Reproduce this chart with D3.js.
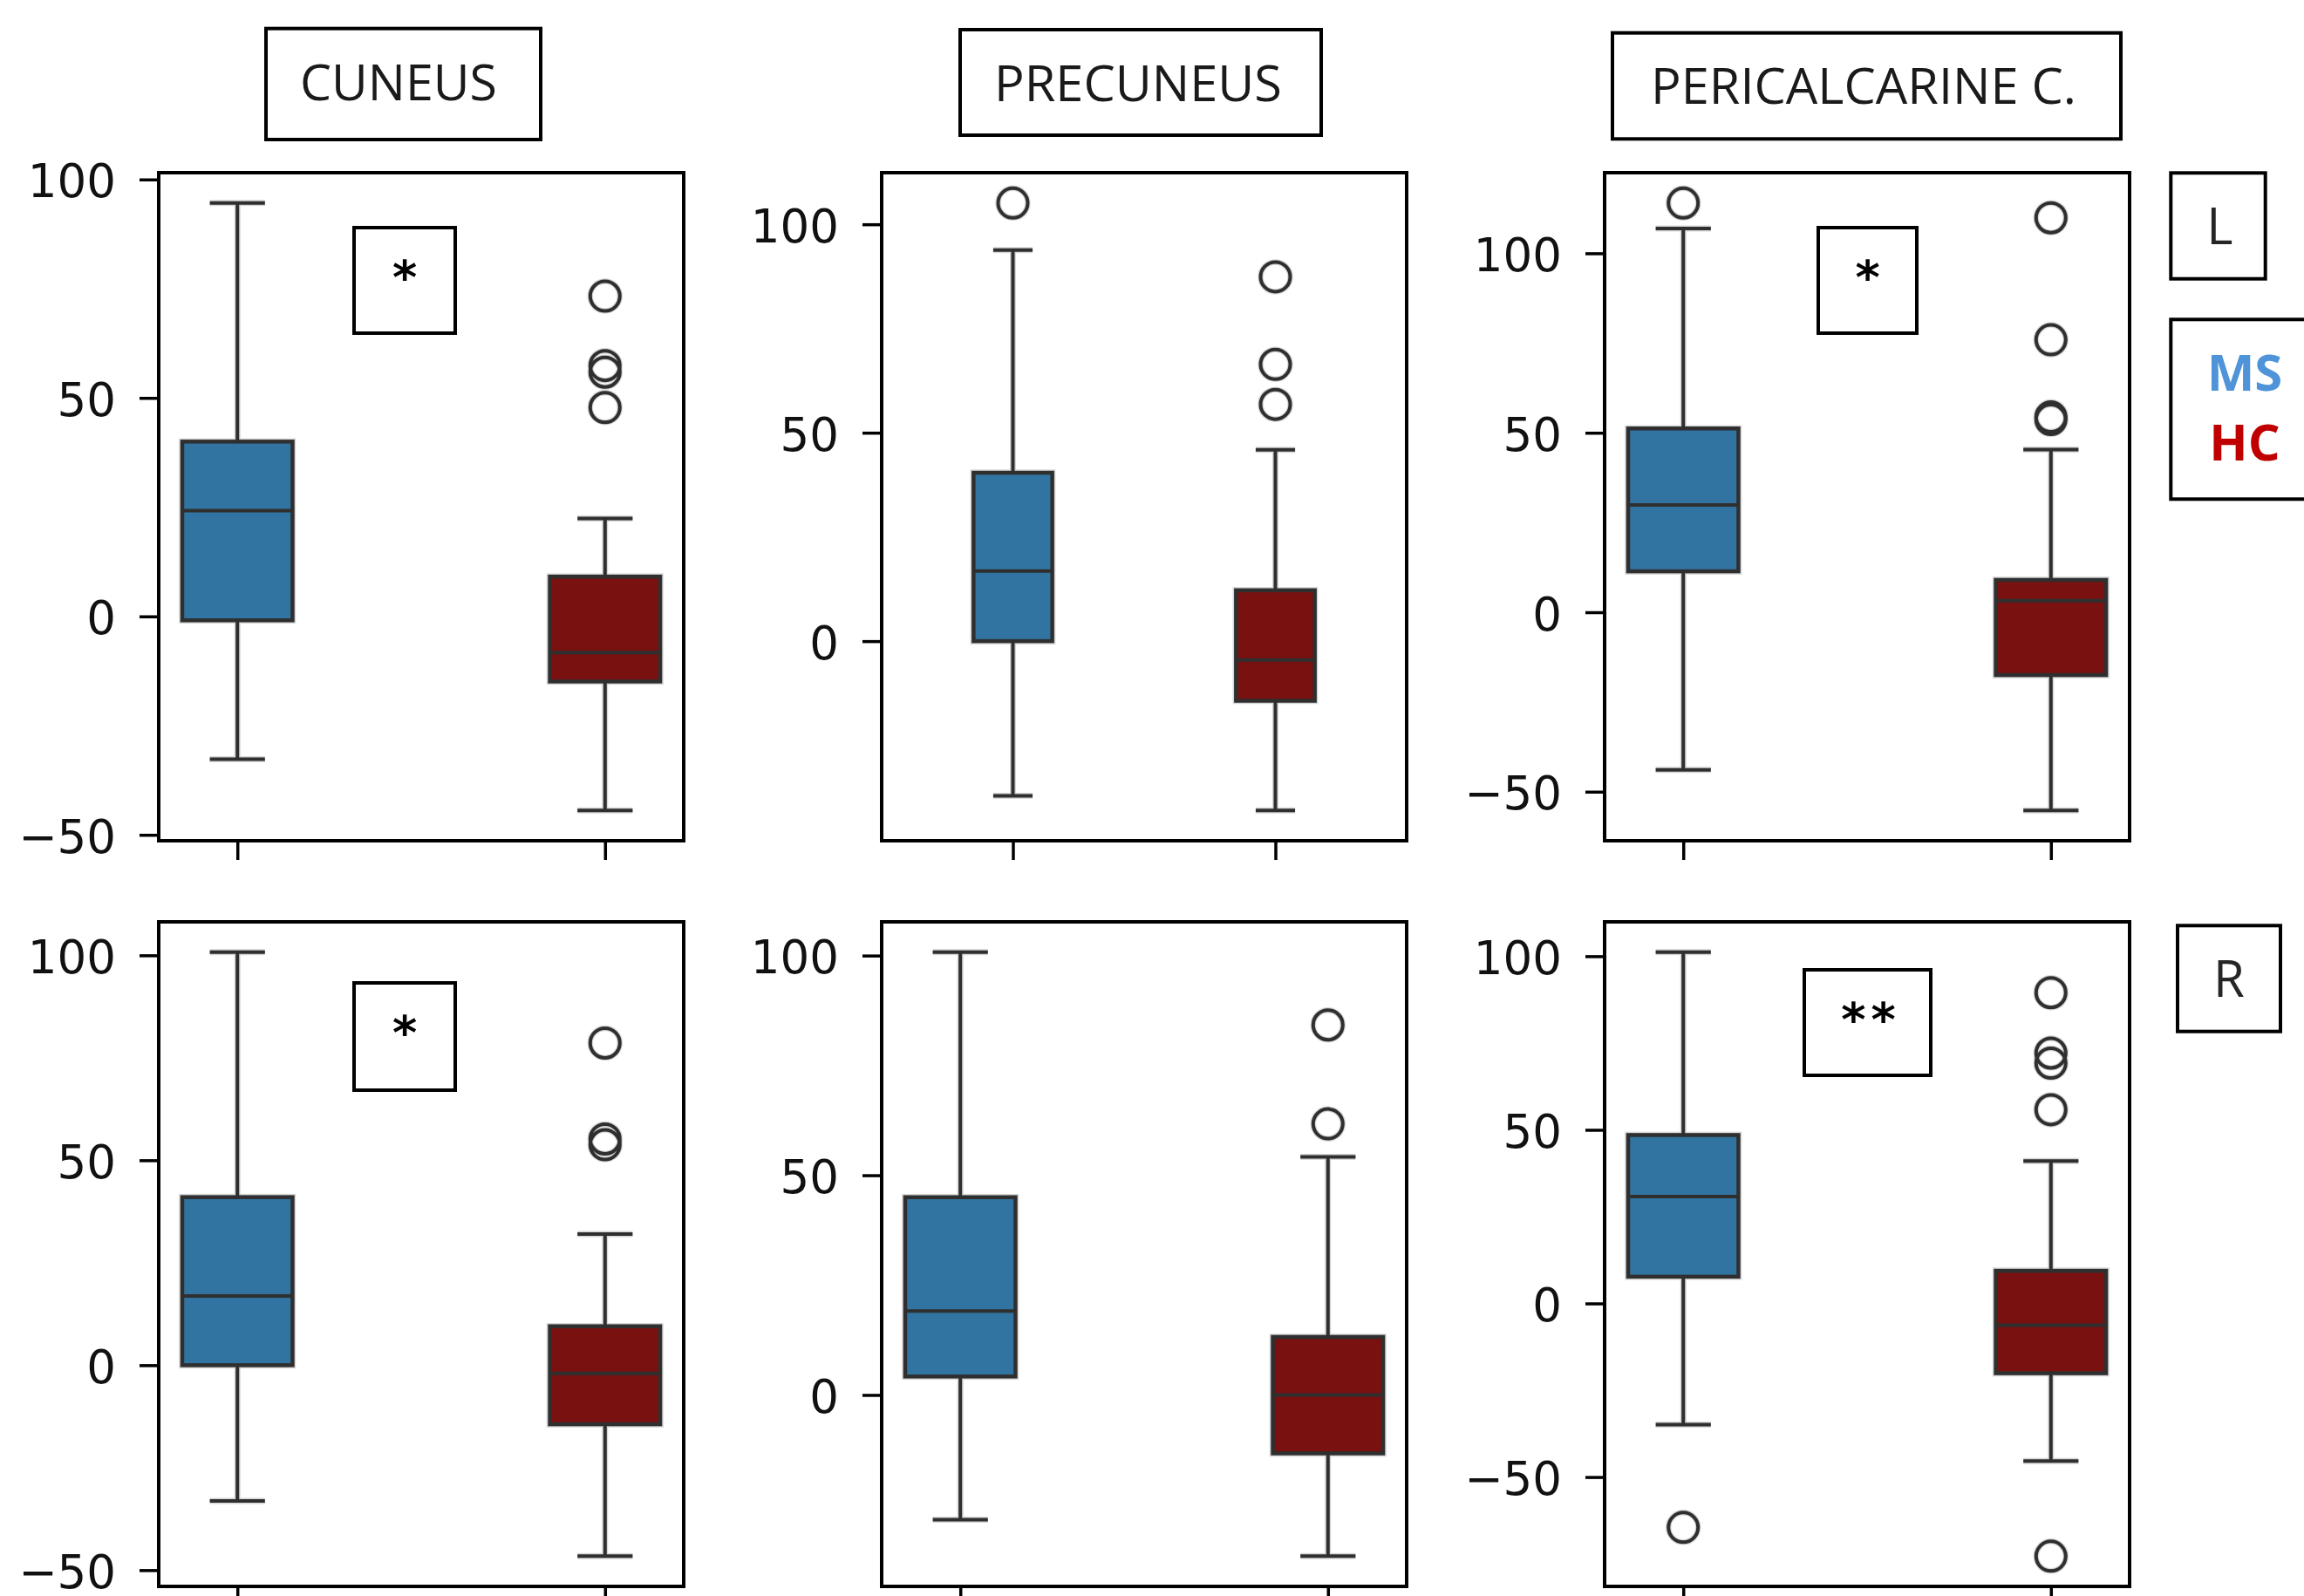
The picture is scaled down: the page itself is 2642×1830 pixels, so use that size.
<!DOCTYPE html>
<html><head><meta charset="utf-8">
<script src="https://cdn.jsdelivr.net/npm/d3@7"></script>
<style>html,body{margin:0;padding:0;background:#fff;} svg{display:block;}</style>
</head><body>
<svg id="chart" width="2642" height="1830"></svg>
<script>
// ---------------- DATA ----------------
const regions = ["CUNEUS", "PRECUNEUS", "PERICALCARINE C."];
const hemispheres = ["L", "R"];
const groups = ["MS", "HC"];
// panel order: Cuneus L, Precuneus L, Pericalcarine L, Cuneus R, Precuneus R, Pericalcarine R
const panelRegion = [0, 1, 2, 0, 1, 2];
const panelHemisphere = [0, 0, 0, 1, 1, 1];

const msWhiskerLow  = [-32.7, -37.1, -43.9, -33.1, -28.4, -34.9];
const msQ1          = [ -0.9,   0.0,  11.4,   0.0,   4.2,   7.7];
const msMedian      = [ 24.2,  16.8,  29.9,  16.9,  19.1,  30.8];
const msQ3          = [ 40.0,  40.4,  51.2,  41.0,  45.0,  48.5];
const msWhiskerHigh = [ 94.6,  93.8, 106.9, 100.8, 100.8, 101.2];
const msOutliers    = [[], [105.1], [114.0], [], [], [-64.5]];

const hcWhiskerLow  = [-44.4, -40.6, -55.2, -46.6, -36.7, -45.4];
const hcQ1          = [-14.9, -14.3, -17.5, -14.4, -13.3, -20.1];
const hcMedian      = [ -8.3,  -4.5,   3.2,  -2.0,   0.0,  -6.3];
const hcQ3          = [  9.1,  12.2,   9.0,   9.5,  13.2,   9.4];
const hcWhiskerHigh = [ 22.4,  45.9,  45.3,  32.0,  54.2,  41.0];
const hcOutliers    = [[73.3, 57.4, 55.9, 47.8], [87.4, 66.4, 56.8], [109.9, 75.9, 54.4, 53.7],
                       [78.6, 55.2, 53.8], [84.2, 61.7], [89.5, 72.1, 69.2, 55.8, -72.8]];

const significance = ["*", "", "*", "*", "", "**"];
const yTickValues = [-50, 0, 50, 100];

// ---------------- LAYOUT / STYLE ----------------
const colLeft = [182, 1011, 1840];
const rowTop = [198, 1057];
const rowHeight = [766, 762];
const panelWidth = 602;
const xPadding = [0.214, 0.5, 0.214, 0.214, 0.214, 0.214];
const groupFill = {MS: "#3274a1", HC: "#7a1111"};
const lineColor = "#2f2f2f";
const haloColor = "#d6d6d6";
const lw = 4;

const titleBoxes = [
  {x: 305, y: 32.7, w: 315, h: 127.3, tx: 457, ty: 115, tl: 226},
  {x: 1101, y: 34, w: 414, h: 121, tx: 1305, ty: 115.6, tl: 330},
  {x: 1849, y: 37.7, w: 583, h: 121.6, tx: 2137, ty: 119, tl: 488}
];
const hemiBoxes = [
  {x: 2489.3, y: 198.3, w: 108.4, h: 121.4, tx: 2545.5, ty: 279.7},
  {x: 2497, y: 1061.3, w: 118, h: 121.4, tx: 2556, ty: 1142.7}
];
const sigBoxes = [
  {x: 406, y: 261, w: 116, h: 121},
  null,
  {x: 2085, y: 261, w: 113, h: 121},
  {x: 406, y: 1127, w: 116, h: 123},
  null,
  {x: 2069, y: 1112, w: 145, h: 121}
];

const svg = d3.select("#chart");
svg.append("rect").attr("width", 2642).attr("height", 1830).attr("fill", "#fff");

const fmt = d => d < 0 ? "\u2212" + Math.abs(d) : String(d);

for (let i = 0; i < 6; i++) {
  const c = panelRegion[i], r = panelHemisphere[i];
  const h = rowHeight[r];
  const g = svg.append("g").attr("transform", `translate(${colLeft[c]},${rowTop[r]})`);

  const stats = [
    {group: "MS", lo: msWhiskerLow[i], q1: msQ1[i], med: msMedian[i], q3: msQ3[i], hi: msWhiskerHigh[i], out: msOutliers[i]},
    {group: "HC", lo: hcWhiskerLow[i], q1: hcQ1[i], med: hcMedian[i], q3: hcQ3[i], hi: hcWhiskerHigh[i], out: hcOutliers[i]}
  ];
  const allVals = stats.flatMap(s => [s.lo, s.hi, ...s.out]);
  const [mn, mx] = d3.extent(allVals);
  const pad = (mx - mn) * 0.05;
  const y = d3.scaleLinear().domain([mn - pad, mx + pad]).range([h, 0]);
  const x = d3.scalePoint().domain(groups).range([0, panelWidth]).padding(xPadding[i]);
  const bw = x.step() * 0.3;

  const layers = [{color: haloColor, width: lw + 3}, {color: lineColor, width: lw}];
  stats.forEach(s => {
    const cx = x(s.group);
    const bg = g.append("g");
    layers.forEach((L, li) => {
      bg.append("line").attr("x1", cx).attr("x2", cx).attr("y1", y(s.hi)).attr("y2", y(s.q3))
        .attr("stroke", L.color).attr("stroke-width", L.width);
      bg.append("line").attr("x1", cx).attr("x2", cx).attr("y1", y(s.q1)).attr("y2", y(s.lo))
        .attr("stroke", L.color).attr("stroke-width", L.width);
      [s.hi, s.lo].forEach(v => {
        bg.append("line").attr("x1", cx - bw / 4).attr("x2", cx + bw / 4).attr("y1", y(v)).attr("y2", y(v))
          .attr("stroke", L.color).attr("stroke-width", L.width);
      });
      bg.append("rect").attr("x", cx - bw / 2).attr("y", y(s.q3)).attr("width", bw).attr("height", y(s.q1) - y(s.q3))
        .attr("fill", li === 1 ? groupFill[s.group] : "none")
        .attr("stroke", L.color).attr("stroke-width", L.width + 0.5);
      if (li === 1) {
        bg.append("line").attr("x1", cx - bw / 2).attr("x2", cx + bw / 2).attr("y1", y(s.med)).attr("y2", y(s.med))
          .attr("stroke", L.color).attr("stroke-width", L.width);
      }
    });
    s.out.forEach(v => {
      bg.append("circle").attr("cx", cx).attr("cy", y(v)).attr("r", 17)
        .attr("fill", "none").attr("stroke", haloColor).attr("stroke-width", lw + 2.5);
    });
    s.out.forEach(v => {
      bg.append("circle").attr("cx", cx).attr("cy", y(v)).attr("r", 17)
        .attr("fill", "none").attr("stroke", lineColor).attr("stroke-width", lw);
    });
  });

  const [d0, d1] = y.domain();
  const yAxis = d3.axisLeft(y).tickValues(yTickValues.filter(t => t >= d0 && t <= d1))
    .tickSize(22).tickPadding(27).tickFormat(fmt);
  const ya = g.append("g").call(yAxis);
  ya.select(".domain").remove();
  ya.selectAll(".tick line").attr("stroke", "#000").attr("stroke-width", 3.5);
  ya.selectAll(".tick text").attr("fill", "#111").attr("dy", "0.38em")
    .style("font-family", "'DejaVu Sans', sans-serif").style("font-size", "53px");

  const xAxis = d3.axisBottom(x).tickSize(22).tickFormat("");
  const xa = g.append("g").attr("transform", `translate(0,${h})`).call(xAxis);
  xa.select(".domain").remove();
  xa.selectAll(".tick line").attr("stroke", "#000").attr("stroke-width", 3.5);

  g.append("rect").attr("x", 0).attr("y", 0).attr("width", panelWidth).attr("height", h)
    .attr("fill", "none").attr("stroke", "#000").attr("stroke-width", 4);

  const sb = sigBoxes[i];
  if (sb) {
    svg.append("rect").attr("x", sb.x).attr("y", sb.y).attr("width", sb.w).attr("height", sb.h)
      .attr("fill", "#fff").attr("stroke", "#000").attr("stroke-width", 4);
    svg.append("text").attr("x", sb.x + sb.w / 2 + (significance[i].length > 1 ? 4 : 0)).attr("y", sb.y + 76)
      .attr("text-anchor", "middle").attr("fill", "#000")
      .style("font-family", "'DejaVu Sans', sans-serif").style("font-size", "54px").style("font-weight", "700")
      .style("letter-spacing", significance[i].length > 1 ? "6px" : "0px")
      .text(significance[i]);
  }
}

titleBoxes.forEach((b, k) => {
  svg.append("rect").attr("x", b.x).attr("y", b.y).attr("width", b.w).attr("height", b.h)
    .attr("fill", "#fff").attr("stroke", "#000").attr("stroke-width", 4);
  svg.append("text").attr("x", b.tx).attr("y", b.ty).attr("text-anchor", "middle").attr("fill", "#1a1a1a")
    .attr("textLength", b.tl).attr("lengthAdjust", "spacingAndGlyphs")
    .style("font-family", "'Open Sans', 'Noto Sans', sans-serif").style("font-size", "57px")
    .text(regions[k]);
});

hemiBoxes.forEach((b, k) => {
  svg.append("rect").attr("x", b.x).attr("y", b.y).attr("width", b.w).attr("height", b.h)
    .attr("fill", "#fff").attr("stroke", "#000").attr("stroke-width", 4);
  svg.append("text").attr("x", b.tx).attr("y", b.ty).attr("text-anchor", "middle").attr("fill", "#262626")
    .style("font-family", "'Open Sans', 'Noto Sans', sans-serif").style("font-size", "58px")
    .text(hemispheres[k]);
});

svg.append("rect").attr("x", 2489.3).attr("y", 366.3).attr("width", 220).attr("height", 206)
  .attr("fill", "#fff").attr("stroke", "#000").attr("stroke-width", 4);
const legendColor = {MS: "#4f94d9", HC: "#c00000"};
const legendBaseline = [447.7, 527.7];
groups.forEach((gname, k) => {
  svg.append("text").attr("x", 2574).attr("y", legendBaseline[k]).attr("text-anchor", "middle")
    .attr("fill", legendColor[gname])
    .style("font-family", "'Open Sans', 'Noto Sans', sans-serif").style("font-size", "58px").style("font-weight", "700")
    .text(gname);
});
</script>
</body></html>
